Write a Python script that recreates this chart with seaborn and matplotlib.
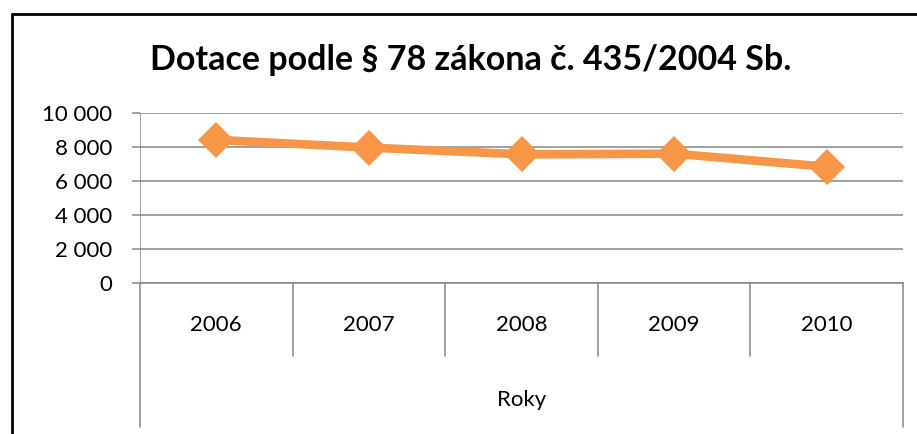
import matplotlib
matplotlib.use("Agg")
import matplotlib.pyplot as plt
import matplotlib.ticker as mticker
import seaborn as sns
import pandas as pd

years = ["2006", "2007", "2008", "2009", "2010"]
values = [8400, 7950, 7550, 7590, 6820]
title = "Dotace podle § 78 zákona č. 435/2004 Sb."
axis_group = "Roky"
yticks = [0, 2000, 4000, 6000, 8000, 10000]

sns.set_style("white")
plt.rcParams['font.family'] = ['Lato', 'DejaVu Sans']
plt.rcParams['text.color'] = 'black'
plt.rcParams['ytick.labelcolor'] = 'black'

df = pd.DataFrame({"Rok": years, "Hodnota": values})

fig = plt.figure(figsize=(9.17, 4.34), dpi=100)
W, H = 917, 434
L, R, T, B = 140, 903, 112.7, 282.7
ax = fig.add_axes([L / W, 1 - B / H, (R - L) / W, (B - T) / H])

sns.lineplot(data=df, x="Rok", y="Hodnota", ax=ax, color="#F79646", linewidth=6.2,
             marker="D", markersize=18, markeredgewidth=0, sort=False, zorder=5)

ax.set_xlim(-0.5, len(years) - 0.5)
ax.set_ylim(0, 10000)
ax.set_yticks(yticks)
ax.yaxis.set_major_formatter(mticker.FuncFormatter(lambda v, p: f"{int(v):,}".replace(",", " ")))
ax.grid(axis="y", color="#868686", linewidth=1.1)
ax.grid(axis="x", visible=False)
for s in ["top", "right", "left"]:
    ax.spines[s].set_visible(False)
ax.spines["bottom"].set_color("#868686")
ax.spines["bottom"].set_linewidth(1.1)
ax.tick_params(axis="y", length=6, width=1.1, color="#868686", labelsize=16, pad=14,
               left=True, labelcolor="black")
ax.set_xticks([])
ax.set_xlabel("")
ax.set_ylabel("")

ax.axvline(-0.5, color="#868686", linewidth=1.1)

trans = ax.get_xaxis_transform()
h = B - T
inner = -(356 - B) / h
outer = -(427 - B) / h
for i in range(len(years) + 1):
    x = i - 0.5
    y1 = outer if i in (0, len(years)) else inner
    ax.plot([x, x], [0, y1], transform=trans, color="#868686", linewidth=1.1, clip_on=False)
for i, yr in enumerate(years):
    ax.text(i, -(325 - B) / h, yr, transform=trans, ha="center", va="center", fontsize=16,
            color="black")
ax.text((len(years) - 1) / 2, -(400 - B) / h, axis_group, transform=trans, ha="center",
        va="center", fontsize=16, color="black")

fig.text(471 / W, 1 - 60 / H, title, ha="center", va="center", fontsize=24.5,
         fontweight="bold", color="black")

fig.add_artist(plt.Line2D([12 / W, 12 / W], [0, 1 - 14 / H], transform=fig.transFigure,
                          color="black", linewidth=2))
fig.add_artist(plt.Line2D([12 / W, 1], [1 - 14 / H, 1 - 14 / H], transform=fig.transFigure,
                          color="black", linewidth=2))

fig.savefig("out.png", dpi=100)
